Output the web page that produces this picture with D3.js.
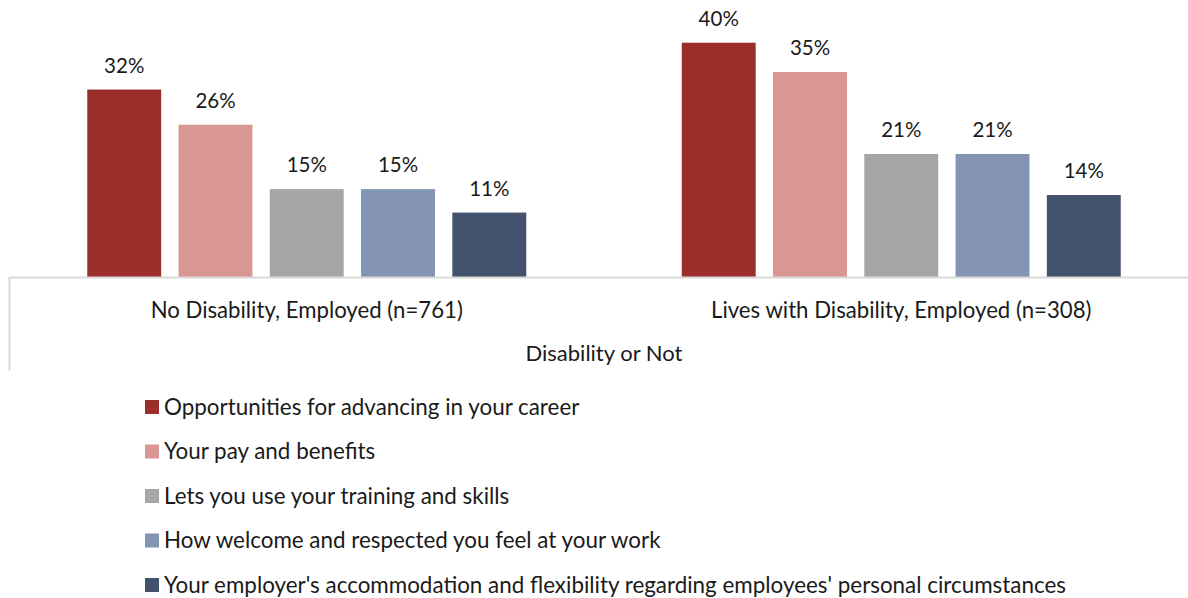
<!DOCTYPE html>
<html>
<head>
<meta charset="utf-8">
<script src="https://cdn.jsdelivr.net/npm/d3@7"></script>
<style>
  html, body { margin: 0; padding: 0; background: #ffffff; }
  svg { display: block; font-family: Lato, "Open Sans", sans-serif; }
</style>
</head>
<body>
<svg id="chart" width="1188" height="598"></svg>
<script>
// Survey groups (x-axis categories)
const groups = ["No Disability, Employed (n=761)", "Lives with Disability, Employed (n=308)"];

// Response options (series)
const seriesNames = [
  "Opportunities for advancing in your career",
  "Your pay and benefits",
  "Lets you use your training and skills",
  "How welcome and respected you feel at your work",
  "Your employer's accommodation and flexibility regarding employees' personal circumstances"
];

// Percentages per series, one value per group
const advancing = [32, 40];
const payBenefits = [26, 35];
const trainingSkills = [15, 21];
const welcomeRespected = [15, 21];
const accommodation = [11, 14];

const seriesValues = [advancing, payBenefits, trainingSkills, welcomeRespected, accommodation];
const colors = ["#9a2f2a", "#da9595", "#a6a6a6", "#8395b3", "#44536d"];

const axisTitle = "Disability or Not";

const svg = d3.select("#chart");

const baseY = 277;
const x0 = d3.scaleBand().domain(groups).range([9.5, 1198.5]).paddingInner(0).paddingOuter(0);
const x1 = d3.scaleBand().domain(seriesNames).range([0, x0.bandwidth()]).paddingInner(0.19).paddingOuter(0.852);
const y = d3.scaleLinear().domain([0, 40]).range([baseY, 42.7]);

// Bars with value labels
groups.forEach((g, gi) => {
  const gEl = svg.append("g").attr("transform", `translate(${x0(g)},0)`);
  seriesNames.forEach((s, si) => {
    const v = seriesValues[si][gi];
    gEl.append("rect")
      .attr("x", x1(s))
      .attr("y", y(v))
      .attr("width", x1.bandwidth())
      .attr("height", baseY - y(v))
      .attr("fill", colors[si]);
    gEl.append("text")
      .attr("x", x1(s) + x1.bandwidth() / 2)
      .attr("y", y(v) - 17)
      .attr("text-anchor", "middle")
      .attr("font-size", 20.5)
      .attr("fill", "#1a1a1a")
      .text(v + "%");
  });
});

// Category axis line and left frame
svg.append("line")
  .attr("x1", x0.range()[0]).attr("x2", 1188)
  .attr("y1", baseY + 0.5).attr("y2", baseY + 0.5)
  .attr("stroke", "#d9d9d9").attr("stroke-width", 2);
svg.append("line")
  .attr("x1", x0.range()[0]).attr("x2", x0.range()[0])
  .attr("y1", baseY).attr("y2", 371)
  .attr("stroke", "#d9d9d9").attr("stroke-width", 2);

// Category labels
groups.forEach(g => {
  svg.append("text")
    .attr("x", x0(g) + x0.bandwidth() / 2)
    .attr("y", 318)
    .attr("text-anchor", "middle")
    .attr("font-size", 22.2)
    .attr("fill", "#1a1a1a")
    .text(g);
});

// Axis title
svg.append("text")
  .attr("x", (x0.range()[0] + x0.range()[1]) / 2)
  .attr("y", 361)
  .attr("text-anchor", "middle")
  .attr("font-size", 22)
  .attr("fill", "#1a1a1a")
  .text(axisTitle);

// Legend
const legendY = d3.scalePoint().domain(seriesNames).range([407, 585]);
seriesNames.forEach((s, si) => {
  const ly = legendY(s);
  svg.append("rect")
    .attr("x", 145).attr("y", ly - 7)
    .attr("width", 14).attr("height", 14)
    .attr("fill", colors[si]);
  svg.append("text")
    .attr("x", 164).attr("y", ly + 7.5)
    .attr("font-size", 22.4)
    .attr("fill", "#1a1a1a")
    .text(s);
});
</script>
</body>
</html>
